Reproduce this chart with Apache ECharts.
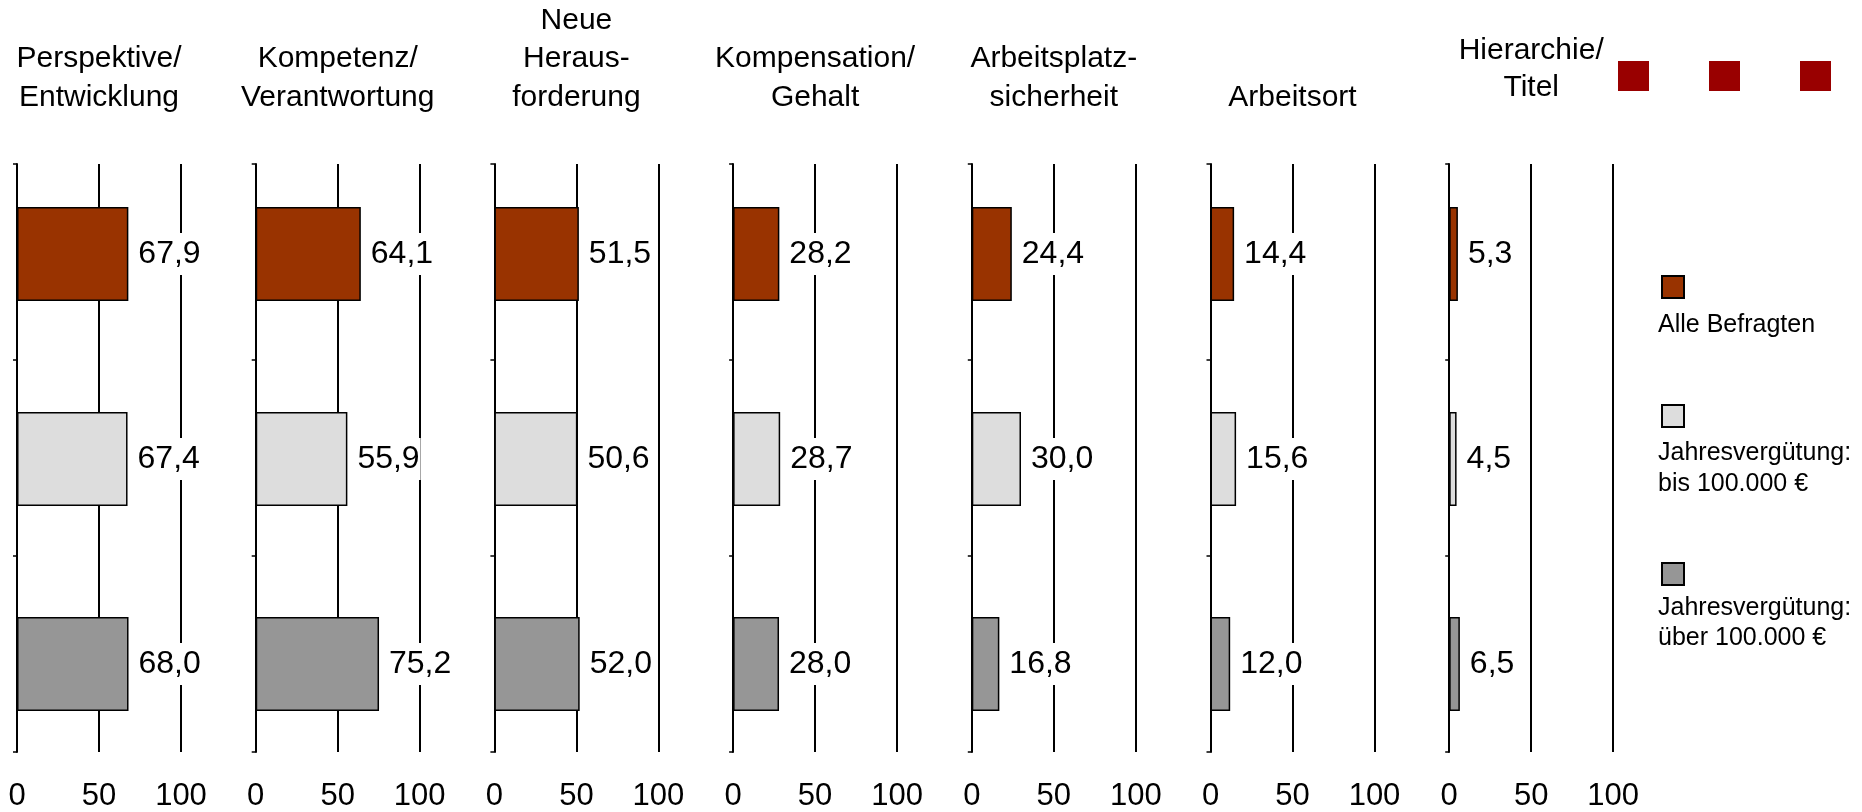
<!DOCTYPE html>
<html>
<head>
<meta charset="utf-8">
<script src="https://cdn.jsdelivr.net/npm/echarts@6/dist/echarts.min.js"></script>
<style>
  html, body { margin: 0; padding: 0; background: #fff; }
  #chart { width: 1862px; height: 812px; }
</style>
</head>
<body>
<div id="chart"></div>
<script>
// Reasons for a job change, share of respondents in percent
const topics = ['Perspektive/\nEntwicklung', 'Kompetenz/\nVerantwortung', 'Neue\nHeraus-\nforderung',
  'Kompensation/\nGehalt', 'Arbeitsplatz-\nsicherheit', 'Arbeitsort', 'Hierarchie/\nTitel'];
const groups = ['Alle Befragten', 'Jahresvergütung: bis 100.000 €', 'Jahresvergütung: über 100.000 €'];
const groupLabels = ['Alle Befragten', 'Jahresvergütung:\nbis 100.000 €', 'Jahresvergütung:\nüber 100.000 €'];
const alleBefragten = [67.9, 64.1, 51.5, 28.2, 24.4, 14.4, 5.3];
const bis100k = [67.4, 55.9, 50.6, 28.7, 30.0, 15.6, 4.5];
const ueber100k = [68.0, 75.2, 52.0, 28.0, 16.8, 12.0, 6.5];
const axisTicks = [0, 50, 100];

const values = [alleBefragten, bis100k, ueber100k];
const colors = ['#993300', '#dddddd', '#969696'];
const FONT = '"Liberation Sans", Arial, Helvetica, sans-serif';

// layout
const left0 = 17, step = 238.7, plotW = 164;
const axisTop = 164, axisH = 588;     // visible axis frame
const barTop = 151.5, barH = 615;     // band area used for the bars

const grid = [], xAxis = [], yAxis = [], series = [], title = [];

topics.forEach((topic, i) => {
  const x0 = left0 + i * step;
  // visible frame: axis line, ticks, grid lines and tick labels
  grid.push({ left: x0, top: axisTop, width: plotW, height: axisH });
  // bars
  grid.push({ left: x0, top: barTop, width: plotW, height: barH });

  xAxis.push({
    gridIndex: 2 * i, type: 'value', min: axisTicks[0], max: axisTicks[axisTicks.length - 1],
    interval: axisTicks[1] - axisTicks[0],
    axisLine: { show: false }, axisTick: { show: false },
    splitLine: { show: true, lineStyle: { color: '#000', width: 2 } },
    axisLabel: { show: true, color: '#000', fontSize: 31, fontFamily: FONT, margin: 29 }
  });
  xAxis.push({
    gridIndex: 2 * i + 1, type: 'value', min: axisTicks[0], max: axisTicks[axisTicks.length - 1], show: false
  });
  yAxis.push({
    gridIndex: 2 * i, type: 'category', inverse: true, data: groups,
    axisLine: { show: true, lineStyle: { color: '#000', width: 2 } },
    axisTick: { show: true, length: 4, lineStyle: { color: '#000', width: 1.5 } },
    axisLabel: { show: false }, splitLine: { show: false }
  });
  yAxis.push({
    gridIndex: 2 * i + 1, type: 'category', inverse: true, data: groups, show: false
  });

  groups.forEach((g, k) => {
    const data = groups.map((_, j) => (j === k ? values[k][i] : '-'));
    series.push({
      type: 'bar', name: g, xAxisIndex: 2 * i + 1, yAxisIndex: 2 * i + 1,
      stack: 'topic' + i, barWidth: 94, data,
      itemStyle: { color: colors[k], borderColor: '#000', borderWidth: 1.5 },
      label: {
        show: true, position: 'right', distance: 9,
        color: '#000', fontSize: 32, fontFamily: FONT,
        backgroundColor: '#fff', padding: [5, 1],
        formatter: p => p.value.toFixed(1).replace('.', ',')
      },
      emphasis: { disabled: true },
      animation: false
    });
  });

  const lines = topic.split('\n').length;
  const lastCenter = i === 6 ? 88 : 97.5;
  const lh = i === 6 ? 37 : 38.5;
  title.push({
    text: topic, left: x0 + plotW / 2, top: lastCenter - (lines - 0.5) * lh,
    textAlign: 'center', padding: 0,
    textStyle: { color: '#000', fontSize: 30, fontWeight: 'normal', fontFamily: FONT, lineHeight: lh }
  });
});

// legend: one swatch per group, captions below each swatch
const legendTops = [275, 404, 562];
const legend = groups.map((g, k) => ({
  data: [g], left: 1661, top: legendTops[k], orient: 'vertical', padding: 0,
  icon: 'rect', itemWidth: 22, itemHeight: 22, selectedMode: false,
  formatter: () => '', textStyle: { fontSize: 1 }
}));
const captionTops = [310, 438, 592.5];

const graphic = [];
groupLabels.forEach((t, k) => {
  graphic.push({
    type: 'text', left: 1658, top: captionTops[k],
    style: { text: t, fill: '#000', font: '25px ' + FONT, lineHeight: 30.5 }
  });
});
// decorative marks in the top right corner
[1618, 1709, 1800].forEach(x => {
  graphic.push({ type: 'rect', shape: { x: x, y: 61, width: 31, height: 30 }, style: { fill: '#990000' } });
});

const chart = echarts.init(document.getElementById('chart'), null, { renderer: 'canvas' });
chart.setOption({
  backgroundColor: '#fff',
  animation: false,
  title, grid, xAxis, yAxis, series, legend, graphic
});
</script>
</body>
</html>
